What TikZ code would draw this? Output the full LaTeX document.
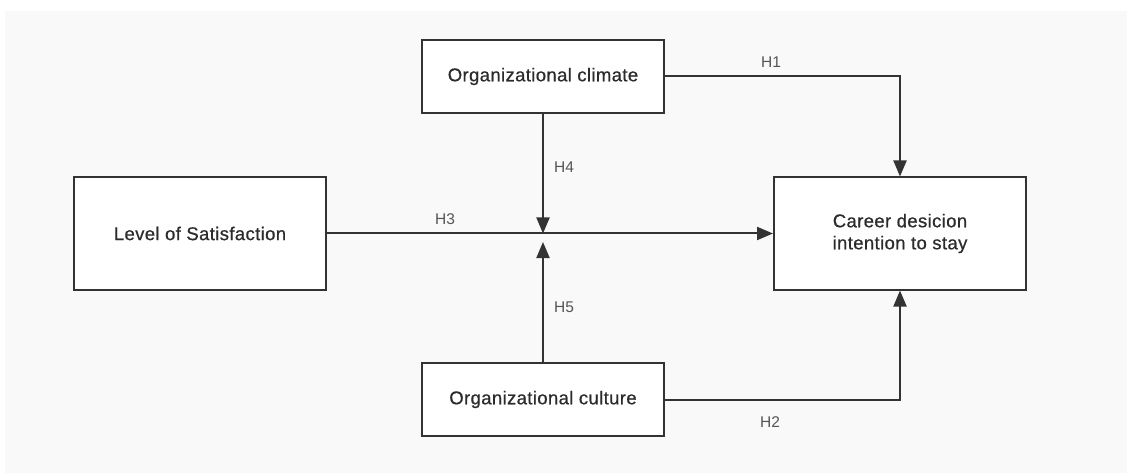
\documentclass[tikz,border=0pt]{standalone}
\usepackage{fontspec}
\setmainfont{Liberation Sans}
\newfontfamily\boxfont[FakeBold=0.6, LetterSpace=2]{Liberation Sans}
\usetikzlibrary{positioning, arrows.meta}
\definecolor{boxline}{HTML}{333333}
\definecolor{labelgray}{HTML}{555555}
\definecolor{canvas}{HTML}{F9F9F9}
\tikzset{
  var/.style={rectangle, draw=boxline, line width=2pt, fill=white,
    minimum width=242pt, minimum height=73pt, align=center, inner sep=0pt,
    text=boxline!85!black, font=\boxfont\fontsize{18.5}{22}\selectfont},
  bigvar/.style={var, minimum width=252pt, minimum height=112pt},
  link/.style={-{Triangle[length=16pt, width=13pt]}, line width=2pt, draw=boxline},
  hyp/.style={text=labelgray, font=\fontsize{15.5}{18}\selectfont},
}

\begin{document}
\begin{tikzpicture}[x=1pt, y=-1pt]
    \useasboundingbox (0,0) rectangle (1127,473);
    \fill[canvas] (5,11) rectangle (1127,473);
    \node[var] (climate) at (543,76.5) {Organizational climate};
    \node[var] (culture) at (543,399.5) {Organizational culture};
    \node[bigvar] (satis) at (200,233.5) {Level of Satisfaction};
    \node[bigvar] (career) at (900,233.5) {Career desicion\\intention to stay};
    \coordinate (meet) at (543,233.5);
    \coordinate (gap) at (543,242);
    \draw[link] (satis.east)-- (career.west);
    \draw[link] (climate.south)-- (meet); \draw[link] (culture.north)-- (gap);
    \draw[link] (climate.east) -| (career.north);
    \draw[link] (culture.east) -| (career.south);
    \node[hyp] (h1) at (771,62) {H1};
    \node[hyp] (h2) at (770,422) {H2};
    \node[hyp] (h3) at (445,219) {H3};
    \node[hyp] (h4) at (564,167) {H4};
    \node[hyp] (h5) at (564,307) {H5};
  \end{tikzpicture}
\end{document}
